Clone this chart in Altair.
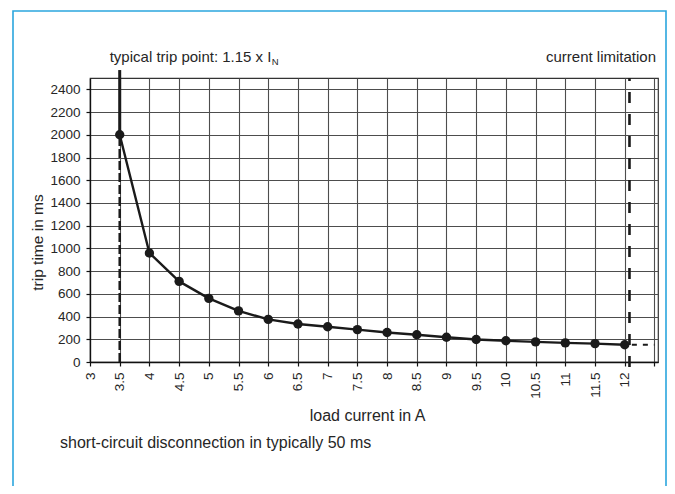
import altair as alt
import pandas as pd

# ---- data ----
current_a = [3.5, 4, 4.5, 5, 5.5, 6, 6.5, 7, 7.5, 8, 8.5, 9, 9.5, 10, 10.5, 11, 11.5, 12]
trip_ms = [2000, 960, 710, 560, 450, 375, 335, 310, 285, 260, 240, 218, 198, 187, 177, 168, 162, 152]

x_tick_values = [3, 3.5, 4, 4.5, 5, 5.5, 6, 6.5, 7, 7.5, 8, 8.5, 9, 9.5, 10, 10.5, 11, 11.5, 12, 12.5]
y_tick_values = [0, 200, 400, 600, 800, 1000, 1200, 1400, 1600, 1800, 2000, 2200, 2400]

trip_point_x = [3.5, 3.5]
trip_point_dashed_y = [0, 2000]
trip_point_solid_y = [2000, 2570]

limit_x = [12.08, 12.08]
limit_y = [-45, 2500]
limit_level_x = [12.12, 12.5]
limit_level_y = [152, 152]

x_domain = [3, 12.56]
y_domain = [0, 2500]

FONT = "Liberation Sans"
INK = "#1a1a1a"
TXT = "#262626"

xs = alt.Scale(domain=x_domain, nice=False, zero=False)
ys = alt.Scale(domain=y_domain, nice=False, zero=False)

curve_df = pd.DataFrame({"x": current_a, "y": trip_ms})

x_axis = alt.Axis(
    values=x_tick_values,
    labelExpr="datum.value > 12.2 ? '' : '' + datum.value",
    labelAngle=270,
    labelOverlap=False,
    labelBound=False,
    labelFlush=False,
    labelPadding=6,
    tickSize=4,
    grid=True,
    title="load current in A",
    titleX=277,
    titleY=58,
    titleAlign="center",
    titleBaseline="alphabetic",
)
y_axis = alt.Axis(
    values=y_tick_values,
    format="d",
    labelOverlap=False,
    labelPadding=6,
    tickSize=4,
    grid=True,
    title="trip time in ms",
    titleFontSize=15.5,
    titleAngle=270,
    titleX=-48,
    titleY=164,
    titleAlign="center",
    titleBaseline="alphabetic",
)


def X():
    return alt.X("x:Q", scale=xs, axis=x_axis)


def Y():
    return alt.Y("y:Q", scale=ys, axis=y_axis)


line = alt.Chart(curve_df).mark_line(
    color=INK, strokeWidth=2.4, interpolate="linear", strokeJoin="round"
).encode(x=X(), y=Y())

points = alt.Chart(curve_df).mark_circle(size=88, color=INK, opacity=1).encode(x=X(), y=Y())

dashed_df = pd.DataFrame({"x": trip_point_x, "y": trip_point_dashed_y})
trip_dashed = alt.Chart(dashed_df).mark_line(
    color=INK, strokeWidth=2.5, strokeDash=[9, 3], clip=False
).encode(x=X(), y=Y())

solid_df = pd.DataFrame({"x": trip_point_x, "y": trip_point_solid_y})
trip_solid = alt.Chart(solid_df).mark_line(
    color=INK, strokeWidth=3, clip=False
).encode(x=X(), y=Y())

limit_df = pd.DataFrame({"x": limit_x, "y": limit_y})
limit_line = alt.Chart(limit_df).mark_line(
    color=INK, strokeWidth=2.6, strokeDash=[11, 11], clip=False
).encode(x=X(), y=Y())

level_df = pd.DataFrame({"x": limit_level_x, "y": limit_level_y})
limit_level = alt.Chart(level_df).mark_line(
    color=INK, strokeWidth=2, strokeDash=[5, 6], clip=False
).encode(x=X(), y=Y())

one = alt.Data(values=[{"k": 1}])

frame = alt.Chart(one).mark_rect(
    fillOpacity=0, stroke="#2ba6de", strokeWidth=1.6
).encode(
    x=alt.value(-77), x2=alt.value(576), y=alt.value(-67), y2=alt.value(430)
)

trip_label = alt.Chart(pd.DataFrame({"x": [3.5], "t": ["typical trip point: 1.15 x I"]})).mark_text(
    font=FONT, fontSize=15, color=TXT, align="left", baseline="alphabetic", dx=-10
).encode(x=X(), y=alt.value(-16), text="t:N")
trip_sub = alt.Chart(pd.DataFrame({"x": [3.5], "t": ["N"]})).mark_text(
    font=FONT, fontSize=9.5, color=TXT, align="left", baseline="alphabetic", dx=152
).encode(x=X(), y=alt.value(-13), text="t:N")
limit_label = alt.Chart(one).mark_text(
    text="current limitation", font=FONT, fontSize=15, color=TXT,
    align="right", baseline="alphabetic"
).encode(x=alt.value(566), y=alt.value(-16))

note = alt.Chart(one).mark_text(
    text="short-circuit disconnection in typically 50 ms", font=FONT, fontSize=16,
    color=TXT, align="left", baseline="alphabetic"
).encode(x=alt.value(-30), y=alt.value(370))

chart = alt.layer(
    line, frame, trip_dashed, trip_solid, limit_line, limit_level, points,
    trip_label, trip_sub, limit_label, note,
).properties(
    width=568, height=284,
    autosize=alt.AutoSizeParams(type="none"),
    padding={"left": 82, "top": 70, "right": 9, "bottom": 124},
    background="white",
).configure_view(
    stroke="#333333", strokeWidth=1.2
).configure_axis(
    domainColor="#111111", domainWidth=1.3,
    tickColor="#111111", tickWidth=1.2,
    gridColor="#4d4d4d", gridWidth=1.1, gridOpacity=1,
    labelFont=FONT, labelFontSize=13.5, labelColor=TXT,
    titleFont=FONT, titleFontSize=16, titleFontWeight="normal", titleColor=TXT,
)

chart.save("out.html", embed_options={"renderer": "svg", "actions": False})
